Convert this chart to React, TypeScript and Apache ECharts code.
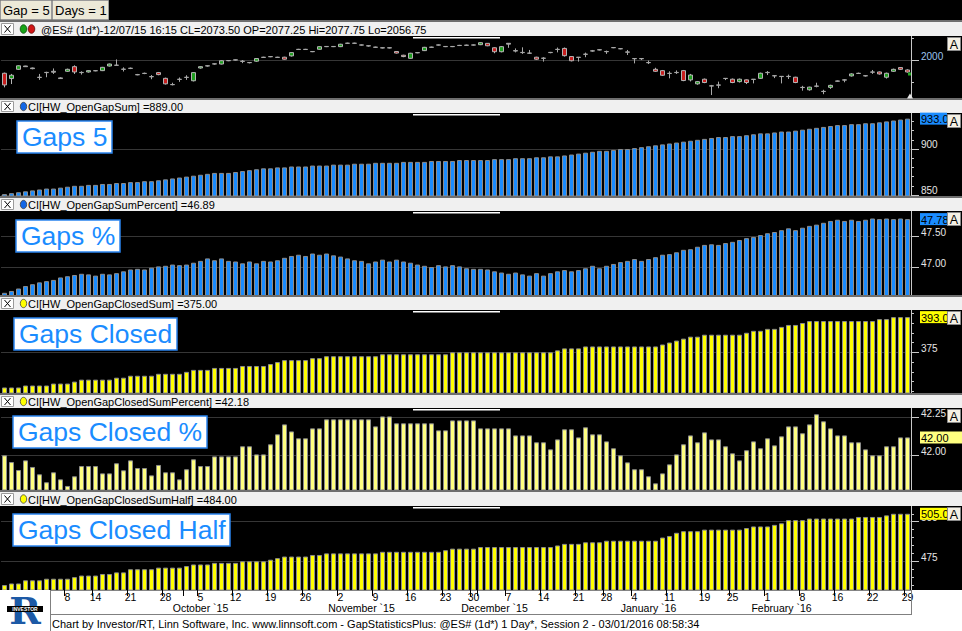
import React, { useEffect, useRef } from "react";
import * as echarts from "echarts";

// ---------- trading days (categories) ----------
const aug15 = [25, 26, 27, 28, 31];
const sep15 = [1, 2, 3, 4, 8, 9, 10, 11, 14, 15, 16, 17, 18, 21, 22, 23, 24, 25, 28, 29, 30];
const oct15 = [1, 2, 5, 6, 7, 8, 9, 12, 13, 14, 15, 16, 19, 20, 21, 22, 23, 26, 27, 28, 29, 30];
const nov15 = [2, 3, 4, 5, 6, 9, 10, 11, 12, 13, 16, 17, 18, 19, 20, 23, 24, 25, 27, 30];
const dec15 = [1, 2, 3, 4, 7, 8, 9, 10, 11, 14, 15, 16, 17, 18, 21, 22, 23, 24, 28, 29, 30, 31];
const jan16 = [4, 5, 6, 7, 8, 11, 12, 13, 14, 15, 19, 20, 21, 22, 25, 26, 27, 28, 29];
const feb16 = [1, 2, 3, 4, 5, 8, 9, 10, 11, 12, 15, 16, 17, 18, 19, 22, 23, 24, 25, 26, 29];

// ---------- x axis tick labels ----------
const weekTickDates = ["2015-09-08", "2015-09-14", "2015-09-21", "2015-09-28", "2015-10-05", "2015-10-12", "2015-10-19", "2015-10-26", "2015-11-02", "2015-11-09", "2015-11-16", "2015-11-23", "2015-11-30", "2015-12-07", "2015-12-14", "2015-12-21", "2015-12-28", "2016-01-04", "2016-01-11", "2016-01-19", "2016-01-25", "2016-02-01", "2016-02-08", "2016-02-15", "2016-02-22", "2016-02-29"];
const weekTickLabels = ["8", "14", "21", "28", "5", "12", "19", "26", "2", "9", "16", "23", "30", "7", "14", "21", "28", "4", "11", "19", "25", "1", "8", "16", "22", "29"];
const monthTickDates = ["2015-10-01", "2015-11-02", "2015-12-01", "2016-01-04", "2016-02-01"];
const monthLabelDates = ["2015-10-05", "2015-11-05", "2015-12-03", "2016-01-06", "2016-02-03"];
const monthLabels = ["October `15", "November `15", "December `15", "January `16", "February `16"];

// ---------- price (candles) ----------
const priceOpen = [1941, 1917, 1959, 1974, 1965, 1923, 1944, 1946, 1920, 1950, 1971, 1944, 1947, 1952, 1953, 1974, 1977, 1959, 1963, 1935, 1941, 1926, 1944, 1918, 1890, 1914, 1922, 1907, 1965, 1974, 1983, 1983, 1998, 2002, 1996, 1990, 1996, 2014, 2016, 2013, 2014, 2020, 2049, 2050, 2040, 2050, 2062, 2063, 2062, 2077, 2078, 2070, 2066, 2060, 2057, 2056, 2040, 2023, 2009, 2035, 2044, 2059, 2069, 2063, 2062, 2068, 2068, 2070, 2071, 2077, 2057, 2039, 2077.25, 2044, 2036, 2033, 2014, 2010, 2035, 2050, 2054, 2017, 2013, 2027, 2043, 2047, 2040, 2058, 2053, 2038, 2007, 2008, 1990, 1959, 1953, 1941, 1944, 1953, 1911, 1893, 1914, 1884, 1887, 1918, 1914, 1903, 1911, 1913, 1918, 1944, 1930, 1926, 1927, 1923, 1877, 1866, 1883, 1859, 1877, 1906, 1910, 1929, 1941, 1929, 1946, 1947, 1923, 1950, 1967, 1956];
const priceClose = [1888, 1932, 1975, 1971, 1962, 1922, 1945, 1950, 1917, 1959, 1947, 1945, 1953, 1953, 1968, 1983, 1978, 1960, 1964, 1934, 1940, 1925, 1935, 1893, 1889, 1913, 1923, 1944, 1971, 1975, 1984, 1998, 1999, 2001, 1995, 1989, 2008, 2013, 2017, 2014, 2005, 2035, 2050, 2049, 2039, 2062, 2063, 2062, 2073, 2078, 2077, 2069, 2065, 2059, 2056, 2057, 2033, 2017, 2032, 2034, 2059, 2060, 2070, 2062, 2063, 2067, 2069, 2069, 2080, 2066, 2039, 2062, 2073.5, 2042, 2035, 2032, 2005, 2009, 2036, 2049, 2021, 1998, 2014, 2028, 2042, 2048, 2039, 2057, 2052, 2037, 2008, 2007, 1989, 1950, 1932, 1940, 1945, 1908, 1933, 1903, 1899, 1883, 1888, 1917, 1899, 1914, 1899, 1914, 1941, 1945, 1929, 1927, 1926, 1899, 1876, 1878, 1882, 1858, 1886, 1905, 1911, 1938, 1940, 1930, 1947, 1938, 1941, 1959, 1959, 1947];
const priceHigh = [1944, 1938, 1977, 1975, 1967, 1938, 1948, 1963, 1923, 1962, 1977, 1950, 1955, 1955, 1970, 1985, 2004, 1968, 1967, 1938, 1944, 1933, 1947, 1921, 1898, 1922, 1932, 1946, 1973, 1977, 1986, 2000, 2001, 2004, 2001, 1992, 2010, 2016, 2019, 2016, 2016, 2037, 2052, 2052, 2042, 2064, 2065, 2065, 2075, 2080, 2080, 2072, 2068, 2062, 2059, 2059, 2041, 2025, 2034, 2037, 2061, 2062, 2072, 2065, 2065, 2070, 2071, 2072, 2082, 2078, 2059, 2065, 2077.75, 2054, 2059, 2047, 2016, 2014, 2038, 2058, 2058, 2019, 2015, 2035, 2047, 2051, 2044, 2060, 2055, 2047, 2009, 2010, 1999, 1966, 1956, 1950, 1954, 1956, 1938, 1906, 1917, 1888, 1903, 1919, 1917, 1917, 1913, 1915, 1944, 1951, 1932, 1928, 1935, 1925, 1884, 1880, 1898, 1866, 1889, 1908, 1914, 1941, 1944, 1932, 1956, 1949, 1944, 1962, 1969, 1959];
const priceLow = [1877, 1892, 1956, 1970, 1959, 1911, 1923, 1938, 1915, 1947, 1938, 1935, 1944, 1950, 1951, 1972, 1976, 1949, 1960, 1932, 1937, 1914, 1932, 1890, 1886, 1902, 1911, 1904, 1962, 1971, 1980, 1981, 1996, 1999, 1987, 1986, 1993, 2012, 2014, 2011, 2003, 2017, 2047, 2047, 2037, 2048, 2060, 2060, 2060, 2075, 2074, 2067, 2062, 2056, 2054, 2054, 2031, 2014, 2007, 2032, 2042, 2057, 2067, 2060, 2060, 2066, 2066, 2067, 2069, 2064, 2032, 2036, 2056.75, 2036, 2029, 2029, 2002, 1994, 2032, 2036, 2017, 1995, 1994, 2014, 2039, 2045, 2029, 2055, 2050, 2024, 1986, 2001, 1983, 1947, 1929, 1918, 1938, 1905, 1904, 1889, 1896, 1842, 1873, 1910, 1896, 1899, 1892, 1895, 1915, 1933, 1919, 1895, 1915, 1896, 1862, 1862, 1877, 1846, 1870, 1903, 1900, 1926, 1938, 1926, 1938, 1935, 1917, 1947, 1956, 1944];

// ---------- indicator panels ----------
const gapsSum = [851, 852, 853, 854, 855, 856, 857, 857, 858, 859, 860, 860, 861, 861, 862, 862, 863, 863, 864, 864, 865, 865, 866, 867, 868, 869, 870, 871, 872, 873, 874, 874, 874, 875, 876, 877, 878, 879, 879, 880, 880, 881, 881, 881, 882, 882, 882, 883, 883, 883, 884, 884, 884, 885, 885, 885, 885, 886, 886, 886, 886, 887, 887, 887, 887, 888, 888, 888, 888, 888, 889, 889, 889, 890, 890, 890, 891, 891, 892, 892, 893, 894, 895, 896, 897, 898, 898, 899, 900, 900, 901, 902, 903, 904, 905, 906, 907, 908, 909, 910, 911, 912, 913, 913, 914, 914, 915, 916, 917, 917, 918, 919, 919, 920, 921, 922, 923, 924, 925, 926, 926, 927, 927, 928, 928, 929, 930, 931, 932, 933];
const gapsPct = [46.58, 46.61, 46.65, 46.69, 46.72, 46.75, 46.77, 46.79, 46.83, 46.85, 46.87, 46.89, 46.88, 46.86, 46.89, 46.88, 46.90, 46.93, 46.96, 46.97, 46.96, 46.99, 47.01, 47.02, 47.04, 47.03, 47.04, 47.07, 47.10, 47.14, 47.11, 47.14, 47.10, 47.09, 47.06, 47.09, 47.06, 47.10, 47.09, 47.11, 47.15, 47.18, 47.20, 47.18, 47.22, 47.20, 47.22, 47.19, 47.17, 47.14, 47.11, 47.10, 47.06, 47.09, 47.12, 47.09, 47.12, 47.09, 47.07, 47.04, 47.02, 47.00, 47.03, 47.01, 47.03, 47.01, 46.98, 46.97, 46.97, 46.96, 46.93, 46.91, 46.89, 46.91, 46.88, 46.86, 46.90, 46.86, 46.90, 46.93, 46.95, 46.93, 46.95, 46.98, 47.02, 46.98, 47.02, 47.05, 47.08, 47.10, 47.13, 47.10, 47.13, 47.16, 47.20, 47.21, 47.24, 47.28, 47.29, 47.33, 47.36, 47.37, 47.36, 47.39, 47.41, 47.44, 47.47, 47.49, 47.52, 47.55, 47.57, 47.60, 47.63, 47.60, 47.64, 47.67, 47.69, 47.72, 47.75, 47.77, 47.75, 47.77, 47.75, 47.77, 47.79, 47.78, 47.79, 47.78, 47.79, 47.78];
const closedSum = [357, 357, 357, 358, 358, 358, 358, 359, 359, 359, 360, 361, 361, 361, 361, 361, 362, 362, 363, 363, 363, 363, 364, 364, 364, 364, 365, 366, 366, 366, 367, 367, 367, 367, 368, 368, 368, 368, 369, 370, 371, 371, 371, 371, 372, 372, 373, 373, 373, 373, 373, 373, 373, 373, 374, 374, 374, 374, 374, 374, 374, 374, 374, 374, 375, 375, 375, 375, 375, 375, 375, 375, 375, 375, 375, 375, 375, 375, 375, 376, 377, 377, 377, 378, 378, 378, 378, 378, 378, 378, 378, 378, 378, 378, 379, 380, 381, 382, 383, 383, 384, 384, 384, 384, 384, 384, 385, 386, 386, 387, 387, 388, 389, 389, 390, 391, 391, 391, 391, 391, 391, 391, 391, 391, 391, 392, 392, 393, 393, 393];
const closedPct = [42.000, 41.956, 41.904, 41.967, 41.924, 41.876, 41.824, 41.889, 41.843, 41.800, 41.863, 41.930, 41.930, 41.930, 41.882, 41.882, 41.948, 41.902, 41.967, 41.917, 41.917, 41.869, 41.937, 41.889, 41.889, 41.843, 41.909, 41.974, 41.930, 41.930, 41.993, 41.993, 41.993, 41.993, 42.059, 42.059, 42.006, 42.006, 42.072, 42.137, 42.202, 42.156, 42.111, 42.111, 42.176, 42.176, 42.235, 42.235, 42.235, 42.235, 42.235, 42.235, 42.235, 42.189, 42.254, 42.254, 42.209, 42.209, 42.209, 42.209, 42.209, 42.209, 42.163, 42.163, 42.228, 42.228, 42.228, 42.228, 42.176, 42.176, 42.176, 42.176, 42.176, 42.130, 42.130, 42.130, 42.085, 42.085, 42.039, 42.104, 42.170, 42.170, 42.117, 42.183, 42.137, 42.137, 42.091, 42.046, 42.000, 41.954, 41.909, 41.909, 41.863, 41.817, 41.882, 41.941, 42.006, 42.072, 42.130, 42.085, 42.150, 42.104, 42.104, 42.059, 42.013, 41.967, 42.033, 42.091, 42.046, 42.111, 42.065, 42.124, 42.189, 42.189, 42.144, 42.202, 42.268, 42.222, 42.176, 42.130, 42.130, 42.085, 42.085, 42.039, 42.000, 42.000, 42.059, 42.059, 42.117, 42.117];
const closedHalf = [460, 461, 461, 463, 463, 463, 464, 464, 464, 464, 465, 466, 466, 466, 467, 467, 468, 468, 470, 470, 470, 470, 471, 471, 471, 471, 472, 473, 473, 473, 474, 474, 474, 474, 475, 475, 475, 475, 476, 477, 478, 478, 478, 478, 479, 479, 480, 480, 480, 480, 480, 480, 480, 480, 481, 481, 481, 481, 481, 481, 481, 481, 481, 482, 483, 483, 483, 483, 484, 484, 484, 484, 484, 484, 484, 484, 484, 484, 484, 485, 486, 486, 486, 487, 487, 487, 488, 488, 488, 488, 488, 488, 488, 488, 490, 491, 493, 494, 494, 494, 495, 495, 495, 495, 495, 495, 496, 497, 497, 497, 498, 499, 501, 501, 501, 502, 502, 502, 502, 502, 502, 502, 503, 503, 503, 503, 504, 505, 505, 505];

const panelNames = ["Gaps 5", "Gaps %", "Gaps Closed", "Gaps Closed %", "Gaps Closed Half"];
const studyNames = ["HW_OpenGapSum", "HW_OpenGapSumPercent", "HW_OpenGapClosedSum", "HW_OpenGapClosedSumPercent", "HW_OpenGapClosedSumHalf"];
const tagLabels = ["933.00", "47.78", "393.00", "42.00", "505.00"];
const cursorDate = "2015-12-07";

const FONT = "'Liberation Sans', Arial, sans-serif";

function pad2(n: number) {
  return n < 10 ? "0" + n : String(n);
}

export default function App() {
  const ref = useRef<HTMLDivElement>(null);

  useEffect(() => {
    if (!ref.current) return;
    const chart = echarts.init(ref.current, undefined, { renderer: "svg" });

    const months: [number, number, number[]][] = [
      [2015, 8, aug15], [2015, 9, sep15], [2015, 10, oct15], [2015, 11, nov15],
      [2015, 12, dec15], [2016, 1, jan16], [2016, 2, feb16],
    ];
    const dates: string[] = [];
    months.forEach(([y, m, days]) => days.forEach((d) => dates.push(`${y}-${pad2(m)}-${pad2(d)}`)));

    const weekLabelMap = new Map<string, string>();
    weekTickDates.forEach((d, i) => weekLabelMap.set(d, weekTickLabels[i]));
    const tickSet = new Set<string>([...weekTickDates, ...monthTickDates]);
    const monthLabelMap = new Map<string, string>();
    monthLabelDates.forEach((d, i) => monthLabelMap.set(d, monthLabels[i]));

    const panels = [
      { top: 36, height: 62, min: 1828.6, max: 2110.45, major: [2000], minor: [1900, 2100], dec: 0, labelColor: "#9cc3ef" },
      { top: 113, height: 83, min: 848.91, max: 939.13, major: [850, 900], minor: [860, 870, 880, 890, 910, 920, 930], dec: 0, labelColor: "#e6e6e6" },
      { top: 211, height: 85, min: 46.528, max: 47.912, major: [47, 47.5], minor: [], dec: 2, labelColor: "#e6e6e6" },
      { top: 310, height: 83, min: 354.17, max: 396.65, major: [375], minor: [355, 360, 365, 370, 380, 385, 390, 395], dec: 0, labelColor: "#e6e6e6" },
      { top: 408, height: 82, min: 41.7735, max: 42.309, major: [42, 42.25], minor: [], dec: 2, labelColor: "#e6e6e6" },
      { top: 506, height: 84, min: 456.88, max: 509.91, major: [475, 500], minor: [460, 465, 470, 480, 485, 490, 495, 505], dec: 0, labelColor: "#e6e6e6" },
    ];

    const grids: any[] = panels.map((p) => ({ left: 1, right: 51, top: p.top, height: p.height }));
    grids.push({ left: 1, right: 51, top: 596, height: 1 });

    const xAxes: any[] = panels.map((p, k) => {
      const base: any = { type: "category", gridIndex: k, data: dates, boundaryGap: true };
      if (k < 5) return { ...base, show: false };
      return {
        ...base,
        position: "bottom",
        axisLine: { show: true, onZero: false, lineStyle: { color: "#808080" } },
        axisTick: { show: true, interval: (_i: number, v: string) => tickSet.has(v), length: 6, lineStyle: { color: "#000" } },
        axisLabel: {
          interval: (_i: number, v: string) => weekLabelMap.has(v),
          formatter: (v: string) => weekLabelMap.get(v) || "",
          color: "#000", fontSize: 10.5, fontFamily: FONT, margin: 2, lineHeight: 10,
        },
      };
    });
    xAxes.push({
      type: "category", gridIndex: 6, data: dates, boundaryGap: true, position: "bottom",
      axisLine: { show: false, onZero: false }, axisTick: { show: false },
      axisLabel: {
        interval: (_i: number, v: string) => monthLabelMap.has(v),
        formatter: (v: string) => monthLabelMap.get(v) || "",
        color: "#000", fontSize: 10.5, fontFamily: FONT, margin: 6, lineHeight: 10,
      },
    });

    const yAxes: any[] = [];
    panels.forEach((p, k) => {
      const minorTick: any = { show: p.minor.length > 0, length: 3, lineStyle: { color: "#c8c8c8" } };
      if (p.minor.length) minorTick.customValues = p.minor;
      yAxes.push({
        type: "value", gridIndex: k, position: "right", min: p.min, max: p.max,
        axisLine: { show: true, lineStyle: { color: "#c8c8c8" } },
        axisTick: minorTick,
        axisLabel: { show: false },
        splitLine: { show: false },
      });
      yAxes.push({
        type: "value", gridIndex: k, position: "right", min: p.min, max: p.max,
        axisLine: { show: false },
        axisTick: { show: true, customValues: p.major, length: 8, lineStyle: { color: "#c8c8c8" } },
        axisLabel: {
          customValues: p.major,
          formatter: (v: number) => v.toFixed(p.dec),
          color: p.labelColor, fontSize: 10, fontFamily: FONT, margin: 10,
          verticalAlign: "bottom", lineHeight: 8,
        },
        splitLine: { show: true, lineStyle: { color: "#363636", width: 1 } },
      });
    });
    yAxes.push({ type: "value", gridIndex: 6, show: false, min: 0, max: 1 });

    const candleItems = priceOpen.map((o, i) => {
      const c = priceClose[i];
      const flat = Math.abs(c - o) <= 4;
      const tone = flat ? "#a8a8a8" : c > o ? "#1f9f1f" : "#c81e1e";
      const border = flat ? "#a8a8a8" : "#b4b4b4";
      return {
        value: [o, c, priceLow[i], priceHigh[i]],
        itemStyle: { color: tone, color0: tone, borderColor: border, borderColor0: border, borderWidth: 1 },
      };
    });

    const barSeriesData = [gapsSum, gapsPct, closedSum, closedPct, closedHalf];
    const barColors = ["#1a8cff", "#1a8cff", "#ffff00", "#ffff80", "#ffff00"];

    const series: any[] = [
      { type: "candlestick", xAxisIndex: 0, yAxisIndex: 0, barWidth: 5, data: candleItems, clip: true },
    ];
    barSeriesData.forEach((d, j) => {
      const k = j + 1;
      series.push({
        type: "bar", name: panelNames[j], xAxisIndex: k, yAxisIndex: 2 * k, data: d, barWidth: 5,
        itemStyle: { color: barColors[j], borderColor: "#8c8c8c", borderWidth: 1 },
      });
    });

    const titleBoxes = [
      { left: 17, top: 121 }, { left: 16, top: 220 }, { left: 14, top: 318 }, { left: 13, top: 416 }, { left: 13, top: 514 },
    ].map((pos, j) => ({
      text: panelNames[j], left: pos.left, top: pos.top, padding: [3, 5, 3, 5],
      backgroundColor: "#ffffff", borderColor: "#2a84ee", borderWidth: 1.5,
      textStyle: { color: "#1a8cff", fontSize: 26.5, fontFamily: FONT, fontWeight: "normal", lineHeight: 26 },
    }));

    chart.setOption({
      animation: false,
      backgroundColor: "#000000",
      title: titleBoxes,
      grid: grids,
      xAxis: xAxes,
      yAxis: yAxes,
      series,
    });

    // ---------- decorations ----------
    const ci = dates.indexOf(cursorDate);
    const g: any[] = [];
    const txt = (x: number, y: number, text: string, size: number, fill: string, extra: any = {}) => {
      const style: any = {
        text, fill, font: `${extra.weight || "normal"} ${size}px ${extra.family || FONT}`,
        textAlign: extra.align || "left", textVerticalAlign: "middle", align: extra.align || "left", verticalAlign: "middle",
      };
      if (extra.width) {
        style.width = extra.width;
        style.overflow = "truncate";
        style.ellipsis = "";
      }
      return { type: "text", x, y, z: extra.z ?? 20, style };
    };

    g.push({ type: "rect", z: -10, shape: { x: 0, y: 590, width: 962, height: 41 }, style: { fill: "#ffffff" } });
    g.push({ type: "line", z: 20, shape: { x1: 50, y1: 614.5, x2: 912, y2: 614.5 }, style: { stroke: "#808080", lineWidth: 1 } });
    g.push({ type: "line", z: 20, shape: { x1: 911.5, y1: 590, x2: 911.5, y2: 614 }, style: { stroke: "#808080", lineWidth: 1 } });

    [[0, 51, "Gap = 5"], [52, 56, "Days = 1"]].forEach(([x, w, t]: any) => {
      g.push({ type: "rect", z: 20, shape: { x: x + 0.5, y: 0.5, width: w, height: 19 }, style: { fill: "#ece9d8", stroke: "#9a9a9a", lineWidth: 1 } });
      g.push(txt(x + 3, 10.5, t, 13, "#000"));
    });

    const bars = [
      { sep: 20, top: 22, bottom: 36 },
      { sep: 98, top: 100, bottom: 113 },
      { sep: 196, top: 198, bottom: 211 },
      { sep: 295, top: 297, bottom: 310 },
      { sep: 393, top: 395, bottom: 408 },
      { sep: 490, top: 492, bottom: 506 },
    ];
    const barTexts = [
      `@ES# (1d*)-12/07/15 16:15 CL=${priceClose[ci].toFixed(2)} OP=${priceOpen[ci].toFixed(2)} Hi=${priceHigh[ci].toFixed(2)} Lo=${priceLow[ci].toFixed(2)}`,
      `CI[${studyNames[0]}] =${gapsSum[ci].toFixed(2)}`,
      `CI[${studyNames[1]}] =${gapsPct[ci].toFixed(2)}`,
      `CI[${studyNames[2]}] =${closedSum[ci].toFixed(2)}`,
      `CI[${studyNames[3]}] =${closedPct[ci].toFixed(2)}`,
      `CI[${studyNames[4]}] =${closedHalf[ci].toFixed(2)}`,
    ];
    const dotColors = ["#000", "#1467e6", "#1467e6", "#ffff00", "#ffff00", "#ffff00"];
    bars.forEach((b, k) => {
      const cy = (b.top + b.bottom) / 2;
      g.push({ type: "rect", z: 15, shape: { x: 0, y: b.sep, width: 962, height: b.top - b.sep }, style: { fill: "#6e6e6e" } });
      g.push({ type: "rect", z: 15, shape: { x: 0, y: b.top, width: 962, height: b.bottom - b.top }, style: { fill: "#f0f0f0" } });
      g.push({ type: "rect", z: 16, shape: { x: 1.5, y: b.top + 1.5, width: 12, height: b.bottom - b.top - 3 }, style: { fill: "#ffffff", stroke: "#9a9a9a", lineWidth: 1 } });
      g.push({ type: "line", z: 17, shape: { x1: 4.5, y1: cy - 3.5, x2: 10.5, y2: cy + 3.5 }, style: { stroke: "#000", lineWidth: 1 } });
      g.push({ type: "line", z: 17, shape: { x1: 10.5, y1: cy - 3.5, x2: 4.5, y2: cy + 3.5 }, style: { stroke: "#000", lineWidth: 1 } });
      if (k === 0) {
        g.push({ type: "ellipse", z: 17, shape: { cx: 23.5, cy, rx: 3.3, ry: 4.3 }, style: { fill: "#17a317", stroke: "#0b4d0b", lineWidth: 0.8 } });
        g.push({ type: "ellipse", z: 17, shape: { cx: 31.5, cy, rx: 3.3, ry: 4.3 }, style: { fill: "#d01515", stroke: "#5a0a0a", lineWidth: 0.8 } });
        g.push(txt(41, cy + 0.5, barTexts[k], 11, "#000"));
      } else {
        g.push({ type: "ellipse", z: 17, shape: { cx: 23.5, cy, rx: 3.2, ry: 4.2 }, style: { fill: dotColors[k], stroke: "#404040", lineWidth: 0.8 } });
        g.push(txt(28, cy + 0.5, barTexts[k], 11, "#000"));
      }
    });

    panels.forEach((p) => {
      g.push({ type: "rect", z: 18, shape: { x: 413, y: p.top + 1, width: 87, height: 1.5 }, style: { fill: "#ffffff" } });
    });

    barSeriesData.forEach((d, j) => {
      const k = j + 1;
      const p = panels[k];
      const last = d[d.length - 1];
      let y = chart.convertToPixel({ yAxisIndex: 2 * k } as any, last) as unknown as number;
      if (typeof y !== "number" || isNaN(y)) y = p.top + ((p.max - last) / (p.max - p.min)) * p.height;
      const full = j === 3;
      const w = full ? 42 : 27;
      g.push({ type: "rect", z: 30, shape: { x: 920, y: y - 6, width: w, height: 12 }, style: { fill: barColors[j] } });
      g.push(txt(921, y + 0.5, tagLabels[j], 11, "#000", { z: 31, width: full ? undefined : 30 }));
    });

    panels.forEach((p) => {
      g.push({ type: "rect", z: 40, shape: { x: 947.5, y: p.top + 1.5, width: 13, height: 13 }, style: { fill: "#f4f0e4", stroke: "#8a8a8a", lineWidth: 1 } });
      g.push(txt(954, p.top + 8.5, "A", 12.5, "#000", { align: "center", z: 41 }));
    });

    g.push({ type: "rect", z: 25, shape: { x: 908, y: 72.5, width: 3, height: 3 }, style: { fill: "#22aa22" } });
    g.push({ type: "polygon", z: 25, shape: { points: [[907, 98.5], [913, 98.5], [910, 93.5]] }, style: { fill: "#e8e8e8" } });

    g.push({ type: "rect", z: 50, shape: { x: 0, y: 590, width: 50, height: 41 }, style: { fill: "#ffffff" } });
    g.push({ type: "line", z: 51, shape: { x1: 50.5, y1: 590, x2: 50.5, y2: 631 }, style: { stroke: "#808080", lineWidth: 1 } });
    g.push(txt(25, 610, "R", 38, "#1d5aa6", { align: "center", weight: "bold", family: "'DejaVu Serif', serif", z: 52 }));
    g.push({ type: "rect", z: 53, shape: { x: 7, y: 606, width: 36, height: 6 }, style: { fill: "#000" } });
    g.push(txt(25, 609, "INVESTOR", 5, "#fff", { align: "center", weight: "bold", z: 54 }));

    g.push(txt(52, 623.5, "Chart by Investor/RT, Linn Software, Inc. www.linnsoft.com - GapStatisticsPlus: @ES# (1d*) 1 Day*, Session 2 - 03/01/2016 08:58:34", 11, "#000"));

    chart.setOption({ graphic: { elements: g } });

    return () => chart.dispose();
  }, []);

  return <div ref={ref} style={{ position: "fixed", left: 0, top: 0, width: 962, height: 631 }} />;
}
